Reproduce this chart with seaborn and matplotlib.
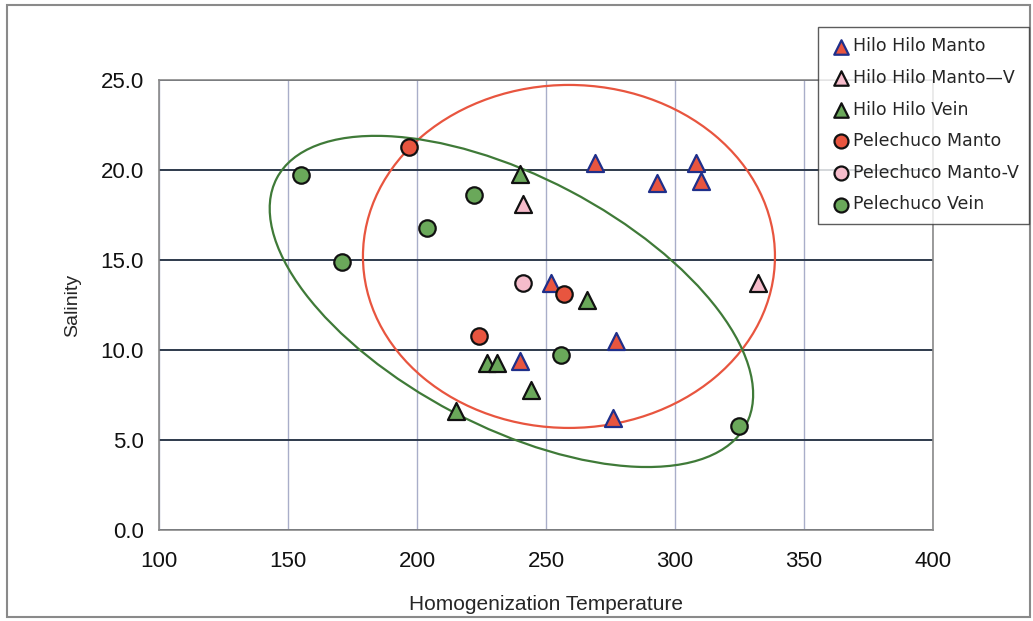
import matplotlib
matplotlib.use("Agg")
import matplotlib.pyplot as plt
import matplotlib.transforms as mtransforms
from matplotlib.patches import Ellipse, Rectangle
import seaborn as sns

# series values (temperature, salinity)
hh_manto_t = [269, 293, 308, 310, 252, 277, 240, 276]
hh_manto_s = [20.4, 19.3, 20.4, 19.4, 13.7, 10.5, 9.4, 6.2]
hh_mantov_t = [241, 332]
hh_mantov_s = [18.1, 13.7]
hh_vein_t = [240, 266, 227, 231, 244, 215]
hh_vein_s = [19.8, 12.8, 9.3, 9.3, 7.8, 6.6]
pe_manto_t = [197, 257, 224]
pe_manto_s = [21.3, 13.1, 10.8]
pe_mantov_t = [241]
pe_mantov_s = [13.7]
pe_vein_t = [155, 171, 204, 222, 256, 325]
pe_vein_s = [19.7, 14.9, 16.8, 18.6, 9.7, 5.8]

x_ticks = [100, 150, 200, 250, 300, 350, 400]
y_ticks = [0, 5, 10, 15, 20, 25]

sns.set_style("white")
plt.rcParams["font.family"] = ["Liberation Sans", "DejaVu Sans"]

RED = "#e8553f"
PINK = "#f6bccb"
GREEN = "#6aa85a"

fig = plt.figure(figsize=(10.33, 6.21), dpi=100)
ax = fig.add_axes([0.1539, 0.1465, 0.7493, 0.7246])

series = [
    (hh_manto_t, hh_manto_s, "^", RED, "#1f2f8a", "Hilo Hilo Manto"),
    (hh_mantov_t, hh_mantov_s, "^", PINK, "#111111", "Hilo Hilo Manto\u2014V"),
    (hh_vein_t, hh_vein_s, "^", GREEN, "#111111", "Hilo Hilo Vein"),
    (pe_manto_t, pe_manto_s, "o", RED, "#111111", "Pelechuco Manto"),
    (pe_mantov_t, pe_mantov_s, "o", PINK, "#111111", "Pelechuco Manto-V"),
    (pe_vein_t, pe_vein_s, "o", GREEN, "#111111", "Pelechuco Vein"),
]

for t, s, m, fc, ec, lab in series:
    sns.scatterplot(x=t, y=s, marker=m, color=fc, edgecolor=ec, linewidth=1.6,
                    s=150 if m == "^" else 140, label=lab, ax=ax, zorder=5)

# ellipses drawn in pixel units, scaled to data units
px_x = 300 / 774
px_y = 25 / 450
for cx, cy, w, h, ang, col in [(258.9, 15.2, 412, 343, 0, "#e8553f"),
                               (236.6, 12.7, 530, 250, -27.7, "#3f7a38")]:
    tr = mtransforms.Affine2D().scale(px_x, px_y).translate(cx, cy) + ax.transData
    ax.add_patch(Ellipse((0, 0), w, h, angle=ang, fill=False, edgecolor=col,
                         linewidth=1.6, transform=tr, zorder=4))

ax.set_xlim(100, 400)
ax.set_ylim(0, 25)
ax.set_xticks(x_ticks)
ax.set_yticks(y_ticks)
ax.set_yticklabels([f"{v:.1f}" for v in y_ticks])
ax.tick_params(axis="both", length=0, labelsize=16, colors="#111111")
ax.tick_params(axis="y", pad=11)
ax.tick_params(axis="x", pad=15)

for v in x_ticks:
    ax.axvline(v, color="#a9aec9", linewidth=1.0, zorder=1)
for v in y_ticks:
    ax.axhline(v, color="#2e3a4c", linewidth=1.4, zorder=1)

for sp in ax.spines.values():
    sp.set_color("#8a8a8a")
    sp.set_linewidth(1.2)

ax.set_xlabel("Homogenization Temperature", fontsize=15, labelpad=17)
ax.set_ylabel("Salinity", fontsize=14, labelpad=14)

handles, labels = ax.get_legend_handles_labels()
ax.legend_.remove()
leg = fig.legend(handles, labels, loc="upper left", bbox_to_anchor=(0.792, 0.9565),
                 frameon=True, fancybox=False, edgecolor="#333333",
                 prop={"family": "DejaVu Sans", "size": 12.5},
                 handletextpad=0.0, labelspacing=0.78, borderpad=0.6,
                 handlelength=1.4, markerscale=0.85, borderaxespad=0)
leg.get_frame().set_linewidth(1.0)

fig.patches.append(Rectangle((0.007, 0.006), 0.990, 0.986, transform=fig.transFigure,
                             fill=False, edgecolor="#8a8a8a", linewidth=1.5))

plt.savefig("out.png", dpi=100)
